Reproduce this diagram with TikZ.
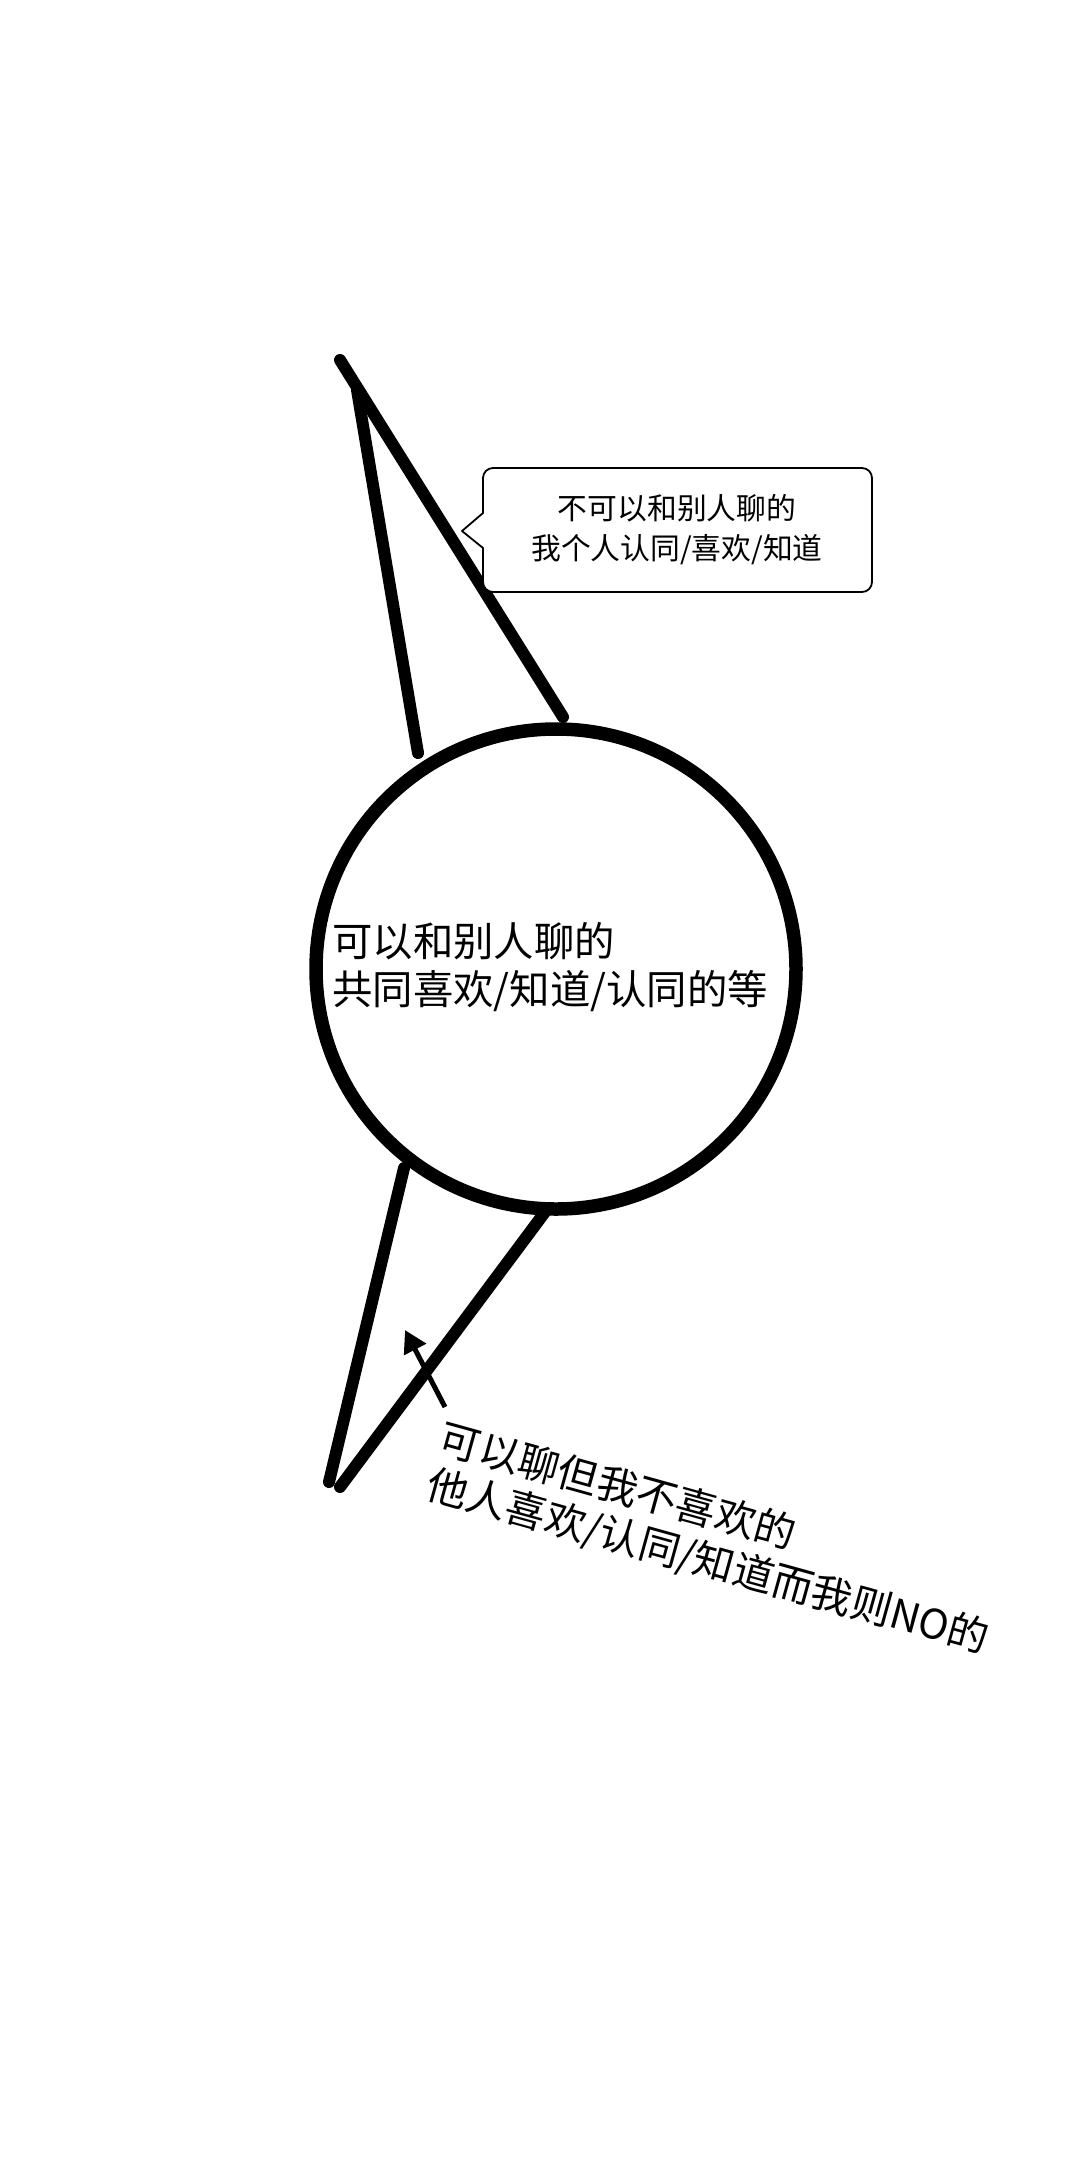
\documentclass[tikz,border=0pt]{standalone}
\usepackage{fontspec}
\setmainfont{Noto Sans CJK SC}
\usetikzlibrary{arrows.meta}
\begin{document}
\begin{tikzpicture}[x=1pt,y=-1pt,
  stroke/.style={line width=12pt,line cap=round},
  ring/.style={circle,draw,line width=13.5pt,minimum size=480pt,inner sep=0pt},
  bigtext/.style={font=\fontsize{40.4}{48}\selectfont,align=left,inner sep=0pt},
  labeltext/.style={font=\fontsize{40.8}{48}\selectfont,align=left,inner sep=0pt},
  smalltext/.style={font=\fontsize{29.8}{40}\selectfont,align=center,inner sep=0pt},
  pointer/.style={line width=5pt,-{Triangle[length=22pt,width=24pt]}},
  bubble/.style={line width=1.8pt,fill=white,line join=round}]
\useasboundingbox (0,0) rectangle (1080,2159);
% end points of the strokes
\coordinate (t1) at (340,360);  \coordinate (t1e) at (563,717);
\coordinate (t2) at (357,390);  \coordinate (t2e) at (418,753);
\coordinate (b1) at (404,1168); \coordinate (b1e) at (329,1482);
\coordinate (b2) at (548,1208); \coordinate (b2e) at (340,1487);
\draw[stroke] (t1) -- (t1e);
\draw[stroke] (t2) -- (t2e);
\draw[stroke] (b1) -- (b1e);
\draw[stroke] (b2) -- (b2e);
% circle
\node[ring] (c) at (556,969) {};
\node[bigtext,anchor=north west] (ctext) at (332,922)
  {可以和别人聊的\\共同喜欢/知道/认同的等};
% callout
\coordinate (tip) at (462,531);
\draw[bubble] (483,513) [rounded corners=10pt] -- (483,468) -- (872,468) -- (872,592) -- (483,592) [sharp corners] -- (483,548) -- (tip) -- cycle;
\node[smalltext] (calltext) at (677,530)
  {不可以和别人聊的\\我个人认同/喜欢/知道};
% rotated label and its pointer
\node[labeltext,anchor=north west,rotate=-15.5] (ltext) at (446,1418)
  {可以聊但我不喜欢的\\他人喜欢/认同/知道而我则NO的};
\coordinate (ptail) at (445,1407);
\coordinate (phead) at (405,1330);
\draw[pointer] (ptail) -- (phead);
\end{tikzpicture}
\end{document}
